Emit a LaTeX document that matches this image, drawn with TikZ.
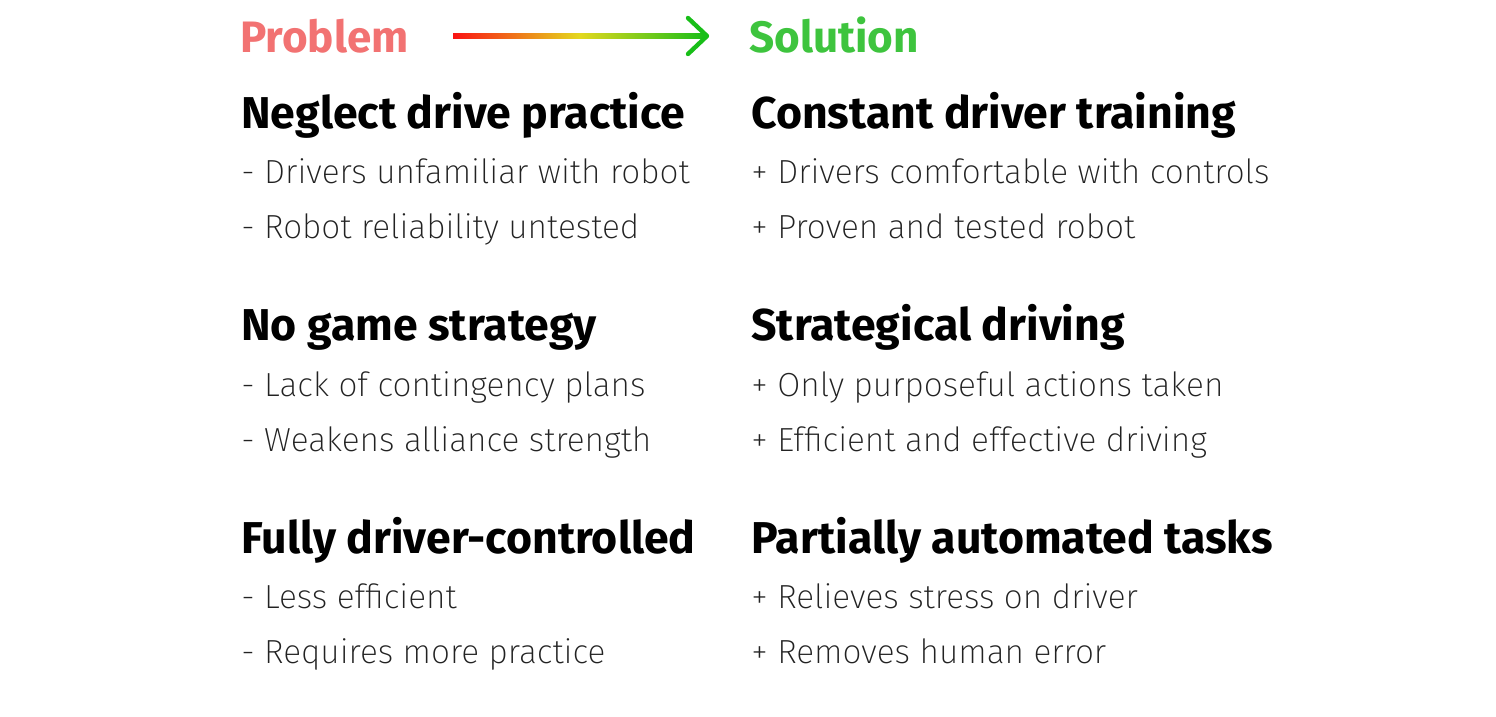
\documentclass[tikz,border=0pt]{standalone}
\usepackage{fontspec}
\setmainfont{Fira Sans}
\newfontfamily\thinfont{Fira Sans ExtraLight}
\usepackage{tikz}
\usetikzlibrary{calc}

\definecolor{probred}{RGB}{242,114,114}
\definecolor{solgreen}{RGB}{62,196,62}
\definecolor{arrred}{RGB}{250,20,20}
\definecolor{arryellow}{RGB}{228,216,30}
\definecolor{arrgreen}{RGB}{24,190,24}
\definecolor{bodygray}{RGB}{34,34,34}

\tikzset{
  title/.style={anchor=base west,inner sep=0pt,font=\bfseries\fontsize{22}{26}\selectfont},
  head/.style={anchor=base west,inner sep=0pt,font=\bfseries\fontsize{22.3}{26}\selectfont},
  item/.style={anchor=base west,inner sep=0pt,text=bodygray,font=\thinfont\fontsize{16.7}{20}\selectfont},
  tipline/.style={draw=arrgreen,line width=2.2pt,line cap=round,line join=round}
}

\begin{document}
\begin{tikzpicture}[x=0.5pt,y=-0.5pt]
    \useasboundingbox (0,0) rectangle (1496,717);

    \node[title,text=probred] (prob) at (240,53) {Problem};
    \node[title,text=solgreen] (sol) at (749,53) {Solution};

    % gradient arrow
    \coordinate (arrS) at (453,36);
    \coordinate (arrE) at (707,36);
    \shade[left color=arrred,right color=arrgreen,middle color=arryellow]
        ($(arrS)+(0,-2.2)$) rectangle ($(arrE)+(-2,2.2)$);
    \draw[tipline] ($(arrE)+(-19,-18)$) -- (arrE) -- ($(arrE)+(-19,18)$);

    % problems
    \node[head] (p1) at (241,129) {Neglect drive practice};
    \node[item] (p1a) at (241,184) {- Drivers unfamiliar with robot};
    \node[item] (p1b) at (241,239) {- Robot reliability untested};

    \node[head] (p2) at (241,341) {No game strategy};
    \node[item] (p2a) at (241,396) {- Lack of contingency plans};
    \node[item] (p2b) at (241,451) {- Weakens alliance strength};

    \node[head] (p3) at (241,553) {Fully driver-controlled};
    \node[item] (p3a) at (241,608) {- Less efficient};
    \node[item] (p3b) at (241,663) {- Requires more practice};

    % solutions
    \node[head] (s1) at (751,129) {Constant driver training};
    \node[item] (s1a) at (751,184) {+ Drivers comfortable with controls};
    \node[item] (s1b) at (751,239) {+ Proven and tested robot};

    \node[head] (s2) at (751,341) {Strategical driving};
    \node[item] (s2a) at (751,396) {+ Only purposeful actions taken};
    \node[item] (s2b) at (751,451) {+ Efficient and effective driving};

    \node[head] (s3) at (751,553) {Partially automated tasks};
    \node[item] (s3a) at (751,608) {+ Relieves stress on driver};
    \node[item] (s3b) at (751,663) {+ Removes human error};
\end{tikzpicture}
\end{document}
